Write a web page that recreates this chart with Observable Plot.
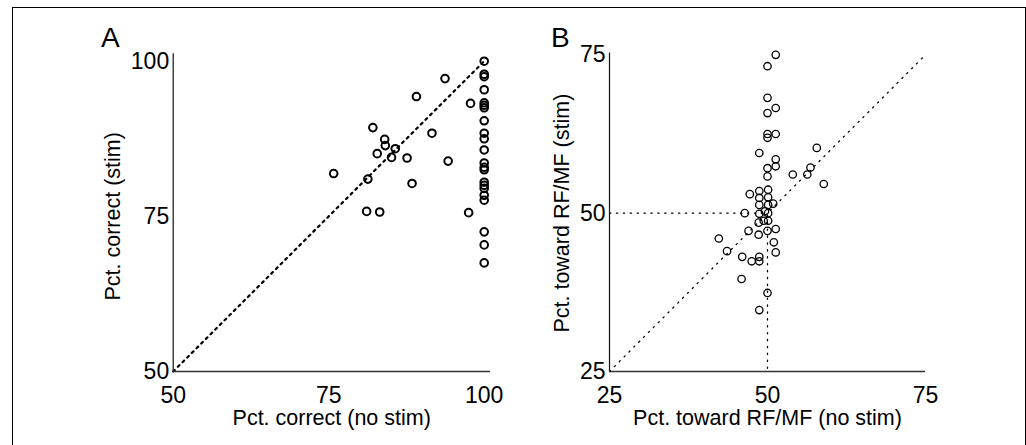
<!DOCTYPE html>
<html>
<head>
<meta charset="utf-8">
<script src="https://cdn.jsdelivr.net/npm/d3@7"></script>
<script src="https://cdn.jsdelivr.net/npm/@observablehq/plot@0.6"></script>
<style>
  html, body { margin: 0; padding: 0; background: #fff; }
  #fig { position: relative; width: 1026px; height: 445px; overflow: hidden; background: #fff;
         font-family: "Liberation Sans", Arial, Helvetica, sans-serif; color: #000; }
  #frame { position: absolute; left: 12px; top: 7px; width: 1012px; height: 460px; border: 1.3px solid #000; box-sizing: content-box; }
  .panel { position: absolute; top: 0; }
  .letter { position: absolute; font-size: 28px; line-height: 28px; }
</style>
</head>
<body>
<div id="fig">
  <div id="frame"></div>
  <div class="letter" id="la" style="left:101px; top:24px;">A</div>
  <div class="letter" id="lb" style="left:551px; top:24px;">B</div>
  <div class="panel" id="pa" style="left:0px;"></div>
  <div class="panel" id="pb" style="left:520px;"></div>
</div>
<script>
// ---- Panel A data: Pct. correct ----
const aNoStim = [100,100,100,100,100,100,100,100,100,100,100,100,100,100,100,100,100,100,100,100,100,100,
                 93.7,89.1,97.8,82.1,91.6,84.0,84.1,85.7,82.8,85.1,87.6,94.2,75.8,81.3,88.4,81.1,83.2,97.5];
const aStim   = [100,97.9,97.5,95.4,93.3,92.9,92.5,90.4,88.4,87.5,85.7,83.6,82.9,82.5,80.5,80.0,79.5,78.4,77.6,72.5,70.4,67.5,
                 97.2,94.3,93.2,89.3,88.4,87.4,86.4,85.9,85.1,84.5,84.4,83.9,81.9,81.0,80.3,75.8,75.7,75.6];
const aTicks = [50, 75, 100];
const aXLabel = "Pct. correct (no stim)";
const aYLabel = "Pct. correct (stim)";

// ---- Panel B data: Pct. toward RF/MF ----
const bNoStim = [51.3,50.0,50.0,51.3,50.0,50.0,51.3,50.0,57.8,48.7,51.3,51.3,56.8,50.0,54.0,56.3,50.0,58.9,
                 47.2,48.7,50.1,48.7,50.1,50.9,48.7,50.1,46.4,48.7,50.1,49.4,50.1,48.6,49.6,
                 47.0,50.0,51.3,48.6,42.3,51.0,43.6,51.3,46.0,47.5,48.7,48.7,45.9,50.0,48.7];
const bStim   = [75.0,73.2,68.2,66.6,65.8,62.5,62.5,61.9,60.3,59.5,58.5,57.4,57.2,57.1,56.1,56.1,55.8,54.6,
                 53.0,53.5,53.7,52.4,52.5,51.5,51.3,51.3,50.0,49.9,50.0,48.8,48.8,48.5,50.3,
                 47.2,47.2,47.5,46.6,46.0,45.4,44.0,43.8,43.1,42.4,43.1,42.4,39.6,37.4,34.7];
const bTicks = [25, 50, 75];
const bXLabel = "Pct. toward RF/MF (no stim)";
const bYLabel = "Pct. toward RF/MF (stim)";

const aData = aNoStim.map((x, i) => ({x, y: aStim[i]}));
const bData = bNoStim.map((x, i) => ({x, y: bStim[i]}));

const font = "'Liberation Sans', Arial, Helvetica, sans-serif";

const plotA = Plot.plot({
  width: 520, height: 445,
  marginLeft: 172.7, marginRight: 36.3, marginTop: 60.7, marginBottom: 74,
  x: {domain: [50, 100]},
  y: {domain: [50, 100]},
  style: {fontFamily: font, background: "transparent", color: "#000", overflow: "visible"},
  marks: [
    Plot.line([{x: 50, y: 50}, {x: 100, y: 100}], {x: "x", y: "y", stroke: "#000", strokeWidth: 2.2, strokeDasharray: "2.2,4.4"}),
    Plot.ruleX([50], {y1: 50, y2: 101.2, stroke: "#111", strokeWidth: 1.2}),
    Plot.ruleY([50], {x1: 50, x2: 101, stroke: "#333", strokeWidth: 1.6}),
    Plot.axisX({ticks: aTicks, tickSize: 0, tickPadding: 15, fontSize: 23, label: null}),
    Plot.axisY({ticks: aTicks, tickSize: 0, tickPadding: 4, fontSize: 23, label: null}),
    Plot.dot(aData, {x: "x", y: "y", r: 3.8, stroke: "#000", strokeWidth: 2, fill: "none"}),
    Plot.text([aXLabel], {text: d => d, frameAnchor: "bottom", lineAnchor: "middle", textAnchor: "middle", dy: 47, dx: 3, fontSize: 21.5}),
    Plot.text([aYLabel], {text: d => d, frameAnchor: "left", lineAnchor: "middle", textAnchor: "middle", dx: -60, rotate: -90, fontSize: 21.5})
  ]
});
document.getElementById("pa").appendChild(plotA);

const plotB = Plot.plot({
  width: 506, height: 445,
  marginLeft: 89, marginRight: 101, marginTop: 54.3, marginBottom: 74,
  x: {domain: [25, 75]},
  y: {domain: [25, 75]},
  style: {fontFamily: font, background: "transparent", color: "#000", overflow: "visible"},
  marks: [
    Plot.line([{x: 25, y: 25}, {x: 75, y: 75}], {x: "x", y: "y", stroke: "#000", strokeWidth: 1.3, strokeDasharray: "1.3,5.6"}),
    Plot.line([{x: 25, y: 50}, {x: 50, y: 50}], {x: "x", y: "y", stroke: "#000", strokeWidth: 1.3, strokeDasharray: "1.3,5.6"}),
    Plot.line([{x: 50, y: 25.5}, {x: 50, y: 50}], {x: "x", y: "y", stroke: "#000", strokeWidth: 1.3, strokeDasharray: "1.3,5.6"}),
    Plot.ruleX([25], {y1: 25, y2: 75.3, stroke: "#111", strokeWidth: 1.2}),
    Plot.ruleY([25], {x1: 25, x2: 75, stroke: "#333", strokeWidth: 1.6}),
    Plot.axisX({ticks: bTicks, tickSize: 0, tickPadding: 15, fontSize: 23, label: null}),
    Plot.axisY({ticks: bTicks, tickSize: 0, tickPadding: 4, fontSize: 23, label: null}),
    Plot.dot(bData, {x: "x", y: "y", r: 3.7, stroke: "#000", strokeWidth: 1.3, fill: "none"}),
    Plot.text([bXLabel], {text: d => d, frameAnchor: "bottom", lineAnchor: "middle", textAnchor: "middle", dy: 47, fontSize: 21.5}),
    Plot.text([bYLabel], {text: d => d, frameAnchor: "left", lineAnchor: "middle", textAnchor: "middle", dx: -47, rotate: -90, fontSize: 21.5})
  ]
});
document.getElementById("pb").appendChild(plotB);
</script>
</body>
</html>
